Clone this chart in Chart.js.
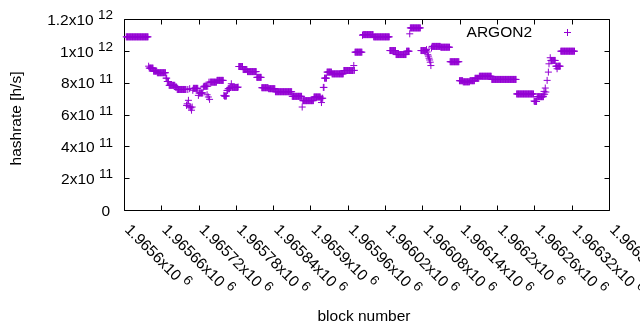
<!DOCTYPE html>
<html><head><meta charset="utf-8">
<script src="https://cdn.jsdelivr.net/npm/chart.js@4"></script>
<style>html,body{margin:0;padding:0;background:#fff;}canvas{display:block;}</style>
</head><body>
<canvas id="c" width="640" height="330"></canvas>
<script>
// ---- data (block offsets from BLOCK_BASE, hashrate in h/s) ----
const BLOCK_BASE = 1965600;
const runStart = [3,39,40,47,53,67,69,72,82,85,100,101,102,103,104,105,106,107,108,109,110,111,119,120,127,128,133,134,135,136,137,138,149,160,161,165,167,170,172,173,183,184,191,198,213,221,232,243,270,286,287,305,316,317,318,320,322,326,334,353,369,370,371,383,384,401,427,437,454,459,460,477,486,487,488,489,490,491,492,493,494,495,509,524,539,545,556,564,571,591,631,659,660,664,675,676,677,678,680,682,683,685,686,694,696,697,702];
const runEnd   = [38,39,46,52,66,68,71,81,84,99,100,101,102,103,104,105,106,107,108,109,110,118,119,126,127,132,133,134,135,136,137,148,159,160,164,166,169,171,172,182,183,190,197,212,220,231,242,269,285,286,304,315,316,317,319,321,325,333,352,368,369,370,382,383,400,426,436,453,458,459,476,485,486,487,488,489,490,491,492,493,494,508,523,538,544,555,563,570,590,630,658,659,663,674,675,676,677,678,680,682,683,685,693,695,696,701,724];
const runValue = [1.09e12,9.06e11,8.94e11,8.75e11,8.65e11,8.31e11,8.10e11,7.86e11,7.75e11,7.60e11,6.60e11,6.70e11,7.60e11,6.92e11,6.55e11,7.65e11,6.50e11,6.45e11,6.30e11,6.50e11,7.55e11,7.67e11,7.23e11,7.38e11,7.75e11,7.80e11,7.27e11,7.80e11,7.13e11,8.06e11,6.98e11,8.06e11,8.17e11,7.23e11,7.19e11,7.54e11,7.65e11,7.73e11,7.96e11,7.73e11,7.75e11,9.04e11,8.85e11,8.72e11,8.36e11,7.71e11,7.65e11,7.46e11,7.17e11,6.50e11,6.90e11,7.13e11,7.02e11,6.78e11,7.05e11,7.73e11,8.31e11,8.69e11,8.58e11,8.79e11,9.10e11,8.80e11,9.94e11,1.10e12,1.104e12,1.09e12,1.004e12,9.79e11,1.0e12,1.109e12,1.146e12,1.004e12,1.01e12,9.95e11,9.78e11,9.69e11,9.56e11,9.45e11,9.31e11,9.10e11,1.02e12,1.03e12,1.025e12,9.34e11,8.15e11,8.08e11,8.15e11,8.30e11,8.43e11,8.23e11,7.32e11,6.88e11,6.85e11,7.15e11,7.48e11,7.30e11,7.69e11,7.44e11,8.17e11,8.69e11,9.21e11,9.59e11,9.42e11,9.06e11,8.90e11,9.06e11,1.0e12];

const xTickValues   = [1965600,1965660,1965720,1965780,1965840,1965900,1965960,1966020,1966080,1966140,1966200,1966260,1966320,1966380];
const xTickMantissa = ["1.9656x10","1.96566x10","1.96572x10","1.96578x10","1.96584x10","1.9659x10","1.96596x10","1.96602x10","1.96608x10","1.96614x10","1.9662x10","1.96626x10","1.96632x10","1.96638x10"];
const xTickExponent = ["6","6","6","6","6","6","6","6","6","6","6","6","6","6"];
const yTickValues   = [0,2e11,4e11,6e11,8e11,1e12,1.2e12];
const yTickMantissa = ["0","2x10","4x10","6x10","8x10","1x10","1.2x10"];
const yTickExponent = ["","11","11","11","11","12","12"];
const seriesName = "ARGON2";
const xTitle = "block number";
const yTitle = "hashrate [h/s]";

// ---- build dataset ----
const points = [];
for (let i = 0; i < runStart.length; i++) {
  for (let b = runStart[i]; b <= runEnd[i]; b++) points.push({x: BLOCK_BASE + b, y: runValue[i]});
}

const PURPLE = '#9400D3';
const FONT = "'Liberation Sans', Arial, sans-serif";
const MAIN = "15.5px " + FONT, EXP = "13.5px " + FONT;
const snap = v => Math.floor(v) + 0.5;

const gp = {
  id: 'gp',
  beforeDatasetsDraw(chart) {
    const {ctx, chartArea: a, scales: {x, y}} = chart;
    ctx.save();
    ctx.strokeStyle = '#000'; ctx.lineWidth = 1;
    const L = snap(a.left), R = snap(a.right), T = snap(a.top), B = snap(a.bottom);
    ctx.beginPath();
    ctx.rect(L, T, R - L, B - T);
    const tl = 5;
    xTickValues.forEach(v => {
      const px = snap(x.getPixelForValue(v));
      ctx.moveTo(px, B); ctx.lineTo(px, B - tl);
      ctx.moveTo(px, T); ctx.lineTo(px, T + tl);
    });
    yTickValues.forEach(v => {
      const py = snap(y.getPixelForValue(v));
      ctx.moveTo(L, py); ctx.lineTo(L + tl, py);
      ctx.moveTo(R, py); ctx.lineTo(R - tl, py);
    });
    ctx.stroke();
    ctx.restore();
  },
  afterDraw(chart) {
    const {ctx, scales: {x, y}} = chart;
    ctx.save();
    ctx.fillStyle = '#000';
    ctx.textBaseline = 'alphabetic';
    // y tick labels
    yTickValues.forEach((v, i) => {
      const py = y.getPixelForValue(v) + 5.3;
      if (!yTickExponent[i]) {
        ctx.font = MAIN; ctx.textAlign = 'right';
        ctx.fillText(yTickMantissa[i], 110, py);
        return;
      }
      ctx.textAlign = 'left';
      ctx.font = EXP; const we = ctx.measureText(yTickExponent[i]).width;
      ctx.font = MAIN; const wm = ctx.measureText(yTickMantissa[i] + ' ').width;
      const xs = 113 - we - wm;
      ctx.fillText(yTickMantissa[i], xs, py);
      ctx.font = EXP; ctx.fillText(yTickExponent[i], xs + wm, py - 5.7);
    });
    // x tick labels (gnuplot rotate by -45: text runs down-right from the tick)
    xTickValues.forEach((v, i) => {
      const px = x.getPixelForValue(v) - 0.4;
      ctx.save();
      ctx.translate(px, 230.5);
      ctx.rotate(Math.PI / 4);
      ctx.textAlign = 'left';
      ctx.font = MAIN;
      const wm = ctx.measureText(xTickMantissa[i] + ' ').width;
      ctx.fillText(xTickMantissa[i], 0, 0);
      ctx.font = EXP;
      ctx.fillText(xTickExponent[i], wm, -5.7);
      ctx.restore();
    });
    // axis titles
    ctx.font = MAIN;
    ctx.textAlign = 'center';
    ctx.fillText(xTitle, 364, 321);
    ctx.save();
    ctx.translate(21, 118.5);
    ctx.rotate(-Math.PI / 2);
    ctx.fillText(yTitle, 0, 0);
    ctx.restore();
    // legend
    ctx.textAlign = 'right';
    ctx.fillText(seriesName, 532, 36.7);
    ctx.strokeStyle = PURPLE; ctx.lineWidth = 1;
    ctx.beginPath();
    ctx.moveTo(564, 32.5); ctx.lineTo(571, 32.5);
    ctx.moveTo(567.5, 29); ctx.lineTo(567.5, 36);
    ctx.stroke();
    ctx.restore();
  }
};

new Chart(document.getElementById('c').getContext('2d'), {
  type: 'scatter',
  data: {datasets: [{
    label: seriesName, data: points,
    pointStyle: 'cross', pointRadius: 3.5, pointHoverRadius: 3.5,
    borderColor: PURPLE, backgroundColor: PURPLE, borderWidth: 1,
    showLine: false, clip: false
  }]},
  options: {
    responsive: false, animation: false, devicePixelRatio: 1, events: [],
    layout: {padding: {left: 124.4, right: 30.7, top: 19.3, bottom: 119.3}},
    plugins: {legend: {display: false}, tooltip: {enabled: false}},
    scales: {
      x: {type: 'linear', display: false, min: 1965600, max: 1966380},
      y: {type: 'linear', display: false, min: 0, max: 1.2e12}
    }
  },
  plugins: [gp]
});
</script>
</body></html>
